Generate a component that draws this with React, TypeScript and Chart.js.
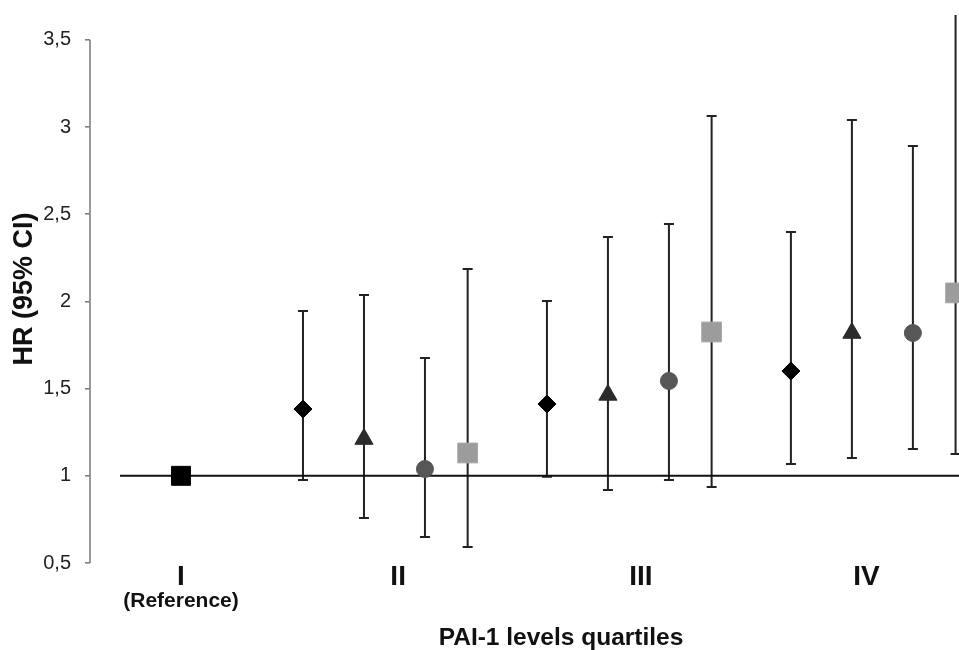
import React, { useEffect, useRef } from 'react';
import { Chart, registerables } from 'chart.js';

Chart.register(...registerables);

// ---- data ----
const categories = ['I', 'II', 'III', 'IV'];
const categoryX = [0, 0.89, 1.885, 2.81];
const referenceSubLabel = '(Reference)';
const groupX = [1, 2, 3]; // quartiles II, III, IV
const seriesOffsets = [-0.5, -0.25, 0, 0.175];

const referenceHR = [1];

const diamondHR = [1.383, 1.412, 1.601];
const diamondLow = [0.976, 0.995, 1.068];
const diamondHigh = [1.946, 2.003, 2.399];

const triangleHR = [1.211, 1.464, 1.819];
const triangleLow = [0.758, 0.919, 1.102];
const triangleHigh = [2.037, 2.37, 3.041];

const circleHR = [1.039, 1.544, 1.819];
const circleLow = [0.649, 0.976, 1.154];
const circleHigh = [1.676, 2.445, 2.892];

const squareHR = [1.131, 1.825, 2.049];
const squareLow = [0.592, 0.936, 1.125];
const squareHigh = [2.186, 3.064, 3.9];

const yTicks = [0.5, 1, 1.5, 2, 2.5, 3, 3.5];
const yMin = 0.5;
const yMax = 3.643;
const xMin = -0.373;
const xMax = 3.189;
const refLineStart = -0.25;

const FONT = '"Liberation Sans", Arial, sans-serif';

const pts = (vals: number[], offset: number) =>
  vals.map((v, i) => ({ x: groupX[i] + offset, y: v }));

const errorBarPlugin = {
  id: 'errorBars',
  beforeDatasetsDraw(chart: any) {
    const { ctx, chartArea, scales } = chart;
    const y = scales.y;
    ctx.save();
    ctx.strokeStyle = '#808080';
    ctx.lineWidth = 1.6;
    ctx.beginPath();
    ctx.moveTo(chartArea.left, y.getPixelForValue(yTicks[0]));
    ctx.lineTo(chartArea.left, y.getPixelForValue(yTicks[yTicks.length - 1]));
    ctx.stroke();

    ctx.beginPath();
    ctx.rect(chartArea.left, chartArea.top, chartArea.right - chartArea.left, chartArea.bottom - chartArea.top);
    ctx.clip();
    ctx.strokeStyle = '#222';
    ctx.lineWidth = 2;
    chart.data.datasets.forEach((ds: any, di: number) => {
      if (!ds.errLow) return;
      const meta = chart.getDatasetMeta(di);
      meta.data.forEach((el: any, i: number) => {
        const px = el.x;
        const lo = y.getPixelForValue(ds.errLow[i]);
        const hi = y.getPixelForValue(ds.errHigh[i]);
        ctx.beginPath();
        ctx.moveTo(px, lo);
        ctx.lineTo(px, hi);
        ctx.moveTo(px - 5, lo);
        ctx.lineTo(px + 5, lo);
        ctx.moveTo(px - 5, hi);
        ctx.lineTo(px + 5, hi);
        ctx.stroke();
      });
    });
    ctx.restore();
  },
  afterDraw(chart: any) {
    const { ctx, scales } = chart;
    const x = scales.x;
    ctx.save();
    ctx.fillStyle = '#111';
    ctx.textAlign = 'center';
    ctx.textBaseline = 'middle';
    ctx.font = `bold 28px ${FONT}`;
    categories.forEach((c, i) => {
      ctx.fillText(c, x.getPixelForValue(categoryX[i]), 577);
    });
    ctx.font = `bold 21px ${FONT}`;
    ctx.fillText(referenceSubLabel, x.getPixelForValue(categoryX[0]), 601);
    ctx.font = `bold 24.5px ${FONT}`;
    ctx.fillText('PAI-1 levels quartiles', 561, 638);
    ctx.restore();
  },
};

export default function App() {
  const ref = useRef<HTMLCanvasElement>(null);
  useEffect(() => {
    document.body.style.margin = '0';
    document.body.style.overflow = 'hidden';
    document.documentElement.style.overflow = 'hidden';
    const canvas = ref.current;
    if (!canvas) return;
    const chart = new Chart(canvas, {
      type: 'scatter',
      data: {
        datasets: [
          {
            label: 'Reference',
            data: [{ x: categoryX[0], y: referenceHR[0] }],
            pointStyle: 'rect',
            pointRadius: 13.4,
            backgroundColor: '#000',
            borderColor: '#000',
            borderWidth: 1,
          },
          {
            label: 'Model 1',
            data: pts(diamondHR, seriesOffsets[0]),
            errLow: diamondLow,
            errHigh: diamondHigh,
            pointStyle: 'rectRot',
            pointRadius: 9,
            backgroundColor: '#000',
            borderColor: '#000',
            borderWidth: 1,
          },
          {
            label: 'Model 2',
            data: pts(triangleHR, seriesOffsets[1]),
            errLow: triangleLow,
            errHigh: triangleHigh,
            pointStyle: 'triangle',
            pointRadius: 10.5,
            backgroundColor: '#2b2b2b',
            borderColor: '#2b2b2b',
            borderWidth: 1,
          },
          {
            label: 'Model 3',
            data: pts(circleHR, seriesOffsets[2]),
            errLow: circleLow,
            errHigh: circleHigh,
            pointStyle: 'circle',
            pointRadius: 8.5,
            backgroundColor: '#575757',
            borderColor: '#575757',
            borderWidth: 1,
          },
          {
            label: 'Model 4',
            data: pts(squareHR, seriesOffsets[3]),
            errLow: squareLow,
            errHigh: squareHigh,
            pointStyle: 'rect',
            pointRadius: 14,
            backgroundColor: '#9c9c9c',
            borderColor: '#a8a8a8',
            borderWidth: 1,
          },
          {
            type: 'line',
            label: 'ref line',
            data: [
              { x: refLineStart, y: referenceHR[0] },
              { x: xMax, y: referenceHR[0] },
            ],
            showLine: true,
            pointRadius: 0,
            borderColor: '#111',
            borderWidth: 2,
            order: 10,
          },
        ] as any,
      },
      options: {
        animation: false,
        responsive: true,
        maintainAspectRatio: false,
        layout: { autoPadding: false, padding: { top: 15, bottom: 87, left: 0, right: 0 } },
        plugins: { legend: { display: false }, tooltip: { enabled: false } },
        scales: {
          x: { type: 'linear', min: xMin, max: xMax, display: false },
          y: {
            type: 'linear',
            min: yMin,
            max: yMax,
            afterBuildTicks: (scale: any) => {
              scale.ticks = yTicks.map((v) => ({ value: v }));
            },
            afterFit: (scale: any) => {
              scale.width = 90;
              scale.paddingTop = 0;
              scale.paddingBottom = 0;
            },
            border: { display: false },
            grid: { drawOnChartArea: false, drawTicks: true, tickLength: 5, color: '#808080', lineWidth: 1.6 },
            ticks: {
              padding: 14,
              color: '#222',
              font: { family: FONT, size: 20 },
              callback: (v: any) => String(v).replace('.', ','),
            },
            title: {
              display: true,
              text: 'HR (95% CI)',
              color: '#111',
              font: { family: FONT, size: 27, weight: 'bold' },
              padding: { top: 8, bottom: 0 },
            },
          },
        },
      },
      plugins: [errorBarPlugin],
    });
    return () => chart.destroy();
  }, []);
  return (
    <div style={{ width: 959, height: 650, position: 'relative', overflow: 'hidden' }}>
      <canvas ref={ref} style={{ display: 'block' }} />
    </div>
  );
}
